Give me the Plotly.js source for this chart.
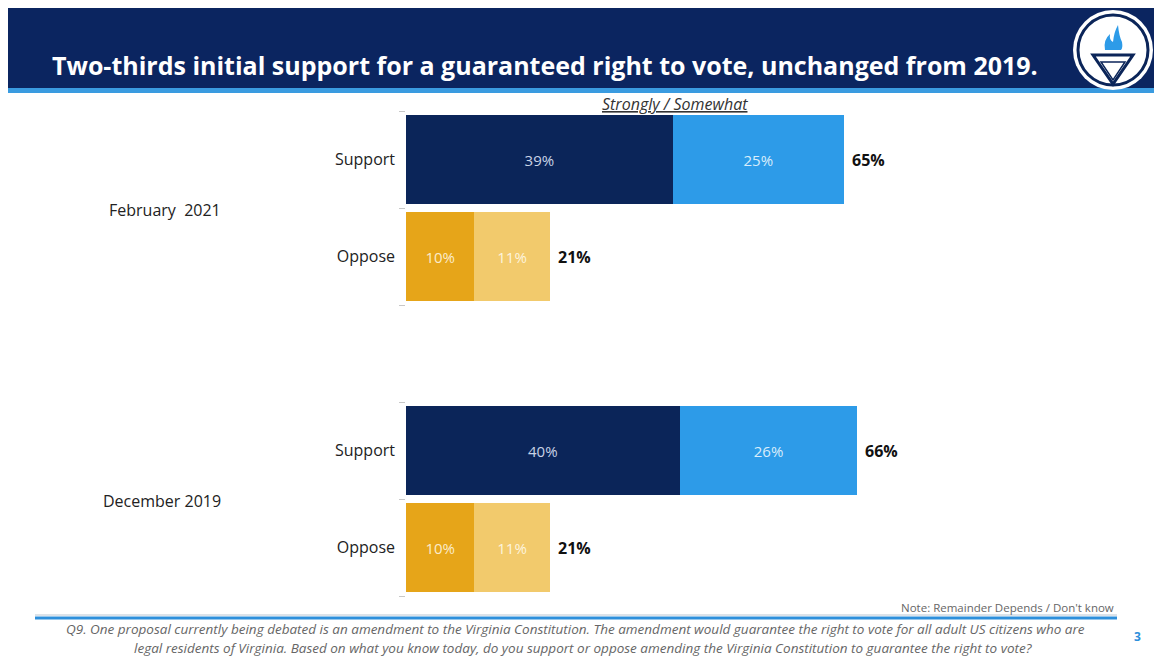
<!DOCTYPE html>
<html>
<head>
<meta charset="utf-8">
<script src="https://cdn.plot.ly/plotly-3.0.1.min.js"></script>
<style>html,body{margin:0;padding:0;background:#fff;} #chart{width:1154px;height:658px;}</style>
</head>
<body>
<div id="chart"></div>
<script>
// ---- data ----
const rows = ["Feb2021 Support", "Feb2021 Oppose", "gap", "Dec2019 Support", "Dec2019 Oppose"];
const rowLabels = ["Support", "Oppose", "", "Support", "Oppose"];
const dataRows = ["Feb2021 Support", "Feb2021 Oppose", "Dec2019 Support", "Dec2019 Oppose"];
const strongly = [39, 10, 40, 10];
const somewhat = [25, 11, 26, 11];
const totals = [65, 21, 66, 21];
const groupLabels = ["February  2021", "December 2019"];
const groupRows = ["Feb2021 Support", "Dec2019 Support"];

// ---- styling ----
const NAVY = "#0B2559", BLUE = "#2D9BE8", ORANGE = "#E6A519", LORANGE = "#F2CA6C";
const colStrong = [NAVY, ORANGE, NAVY, ORANGE];
const colSome = [BLUE, LORANGE, BLUE, LORANGE];
const txtStrong = ["#c9d3e6", "#fbeccb", "#c9d3e6", "#fbeccb"];
const txtSome = ["#d9edfb", "#fdf4de", "#d9edfb", "#fdf4de"];
const FONT = "'Open Sans', 'Noto Sans', sans-serif";

const W = 1154, H = 658, L = 406, R = 64, T = 111, B = 62;
const PW = W - L - R, PH = H - T - B;
const px = x => (x - L) / PW;
const py = y => (H - B - y) / PH;

const traces = [
  {type: "bar", orientation: "h", y: dataRows, x: strongly, name: "Strongly",
   marker: {color: colStrong}, texttemplate: "%{x}%", textposition: "inside",
   insidetextanchor: "middle", constraintext: "none",
   textfont: {family: FONT, size: 15, color: txtStrong}, hoverinfo: "skip"},
  {type: "bar", orientation: "h", y: dataRows, x: somewhat, name: "Somewhat",
   marker: {color: colSome}, texttemplate: "%{x}%", textposition: "inside",
   insidetextanchor: "middle", constraintext: "none",
   textfont: {family: FONT, size: 15, color: txtSome}, hoverinfo: "skip"}
];

const annotations = [];
dataRows.forEach((r, i) => {
  annotations.push({x: strongly[i] + somewhat[i], y: r, xref: "x", yref: "y",
    text: "<b>" + totals[i] + "%</b>", showarrow: false, xanchor: "left", xshift: 6,
    font: {family: FONT, size: 16, color: "#111"}});
});
groupLabels.forEach((g, i) => {
  annotations.push({x: px(223), y: groupRows[i], xref: "paper", yref: "y", yshift: -50,
    text: g, showarrow: false, xanchor: "right", yanchor: "middle",
    font: {family: FONT, size: 16, color: "#222"}});
});
annotations.push({x: px(675), y: py(104), xref: "paper", yref: "paper",
  text: "<i><u>Strongly / Somewhat</u></i>", showarrow: false, xanchor: "center", yanchor: "middle",
  font: {family: FONT, size: 16, color: "#333"}});
annotations.push({x: px(1116), y: py(607), xref: "paper", yref: "paper",
  text: "Note: Remainder Depends / Don't know", showarrow: false, xanchor: "right", yanchor: "middle",
  font: {family: FONT, size: 11.5, color: "#666"}});
annotations.push({x: px(575), y: py(629), xref: "paper", yref: "paper", align: "center",
  text: "<i>Q9. One proposal currently being debated is an amendment to the Virginia Constitution. The amendment would guarantee the right to vote for all adult US citizens who are</i>",
  showarrow: false, xanchor: "center", yanchor: "middle",
  font: {family: FONT, size: 13.5, color: "#666"}});
annotations.push({x: px(583), y: py(648), xref: "paper", yref: "paper", align: "center",
  text: "<i>legal residents of Virginia. Based on what you know today, do you support or oppose amending the Virginia Constitution to guarantee the right to vote?</i>",
  showarrow: false, xanchor: "center", yanchor: "middle",
  font: {family: FONT, size: 13.5, color: "#666"}});
annotations.push({x: px(1137), y: py(636), xref: "paper", yref: "paper",
  text: "<b>3</b>", showarrow: false, xanchor: "center", yanchor: "middle",
  font: {family: FONT, size: 12, color: "#2D8FDB"}});

const shapes = [
  // header band
  {type: "rect", xref: "paper", yref: "paper", x0: px(8), x1: px(1154), y0: py(8), y1: py(88),
   fillcolor: "#0B2560", line: {width: 0}, layer: "below"},
  {type: "rect", xref: "paper", yref: "paper", x0: px(8), x1: px(1154), y0: py(88), y1: py(93),
   fillcolor: "#3A9BE0", line: {width: 0}, layer: "below"},
  // logo
  {type: "circle", xref: "paper", yref: "paper", x0: px(1073), x1: px(1153), y0: py(10), y1: py(90),
   fillcolor: "#ffffff", line: {width: 0}},
  {type: "circle", xref: "paper", yref: "paper", x0: px(1078), x1: px(1148), y0: py(15), y1: py(85),
   fillcolor: "#ffffff", line: {width: 3, color: NAVY}},
  {type: "path", xref: "paper", yref: "paper",
   path: `M ${px(1093)} ${py(55)} L ${px(1133)} ${py(55)} L ${px(1113)} ${py(84)} Z`,
   fillcolor: "rgba(0,0,0,0)", line: {width: 3, color: NAVY}},
  {type: "path", xref: "paper", yref: "paper",
   path: `M ${px(1101)} ${py(62)} L ${px(1125)} ${py(62)} L ${px(1113)} ${py(80)} Z`,
   fillcolor: "rgba(0,0,0,0)", line: {width: 1.5, color: NAVY}},
  {type: "path", xref: "paper", yref: "paper",
   path: `M ${px(1105)} ${py(50)} Q ${px(1103)} ${py(40)} ${px(1110)} ${py(34)} Q ${px(1109)} ${py(40)} ${px(1113)} ${py(42)} Q ${px(1114)} ${py(32)} ${px(1118)} ${py(25)} Q ${px(1119)} ${py(36)} ${px(1122)} ${py(42)} Q ${px(1123)} ${py(48)} ${px(1121)} ${py(50)} Z`,
   fillcolor: "#2D9BE8", line: {width: 0}},
  // bottom rule
  {type: "line", xref: "paper", yref: "paper", x0: px(35), x1: px(1117), y0: py(615), y1: py(615),
   line: {width: 1, color: "#b9c6d3"}},
  {type: "line", xref: "paper", yref: "paper", x0: px(35), x1: px(1117), y0: py(618), y1: py(618),
   line: {width: 3, color: "#2D8FDB"}}
];

const layout = {
  width: W, height: H,
  margin: {l: L, r: R, t: T, b: B, pad: 0},
  paper_bgcolor: "#ffffff", plot_bgcolor: "#ffffff",
  barmode: "stack", bargap: 0.08, showlegend: false,
  title: {text: "<b>Two-thirds initial support for a guaranteed right to vote, unchanged from 2019.</b>",
    x: 52 / W, xanchor: "left", xref: "container", y: 1 - 66 / H, yanchor: "middle", yref: "container",
    font: {family: FONT, size: 25, color: "#ffffff"}},
  xaxis: {range: [0, 100], visible: false, fixedrange: true},
  yaxis: {type: "category", categoryarray: rows, categoryorder: "array", range: [4.5, -0.5],
    tickmode: "array", tickvals: rows, ticktext: rowLabels,
    tickson: "boundaries", ticks: "outside", ticklen: 6, tickcolor: "#c8c8c8", tickwidth: 1,
    ticklabelstandoff: 10,
    showline: false, showgrid: false, zeroline: false,
    tickfont: {family: FONT, size: 16, color: "#222"}, fixedrange: true},
  annotations: annotations,
  shapes: shapes
};

Plotly.newPlot("chart", traces, layout, {displayModeBar: false, staticPlot: true});
</script>
</body>
</html>
